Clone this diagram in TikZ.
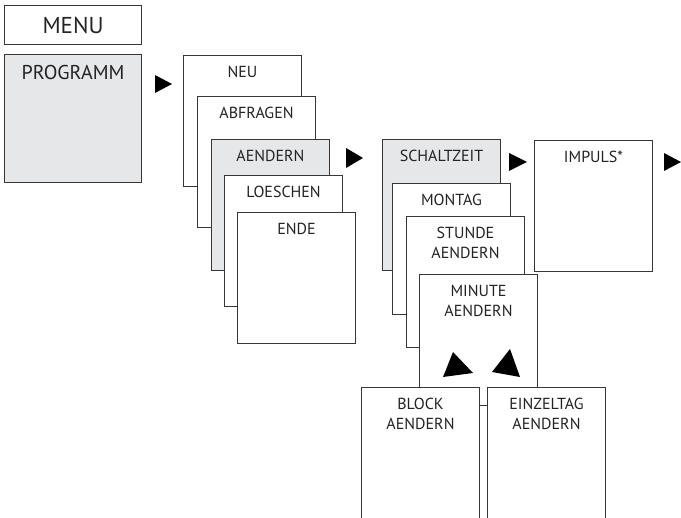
\documentclass[tikz,border=0pt]{standalone}
\usepackage{fontspec}
\setmainfont{PT Sans}
\usepackage{xcolor}
\usepackage{tikz}
\usetikzlibrary{positioning}
\definecolor{mygrey}{RGB}{230,231,233}
\definecolor{myline}{RGB}{55,55,55}
\definecolor{mytext}{RGB}{35,35,35}
\tikzset{
  boxlabel/.style={anchor=north, inner sep=0pt, yshift=-11pt, align=center,
    text=mytext, font=\fontsize{16}{20}\selectfont},
  menubox/.style={rectangle, draw=myline, fill=white, line width=1pt,
    minimum width=118pt, minimum height=131pt, inner sep=0pt,
    anchor=north west, label={[boxlabel]north:#1}},
  greybox/.style={menubox=#1, fill=mygrey},
  tri/.style={fill=black}
}
\begin{document}
\begin{tikzpicture}[x=1pt, y=-1pt]
  \clip (0,0) rectangle (681,518);
  \fill[white] (0,0) rectangle (681,518);

  % Menu title and first level
  \node[rectangle, draw=myline, line width=1pt, minimum width=137pt, minimum height=39pt,
    anchor=north west, text=mytext, font=\fontsize{23}{28}\selectfont] (menu) at (4,5) {MENU};
  \node[greybox=, minimum width=137pt, minimum height=128pt,
    label={[boxlabel, font=\fontsize{20}{24}\selectfont]north:PROGRAMM}] (prog) at (4,54) {};
  \fill[tri] (155,75) -- (155,93) -- (172,84) -- cycle;

  % Second level stack
  \node[menubox=NEU] (neu) at (183,55) {};
  \node[menubox=ABFRAGEN] (abfragen) at (197,96) {};
  \node[greybox=AENDERN] (aendern) at (211,139) {};
  \node[menubox=LOESCHEN] (loeschen) at (224,175) {};
  \node[menubox=ENDE] (ende) at (237,212) {};
  \fill[tri] (346,148) -- (346,168) -- (363,158) -- cycle;

  % Third level stack
  \node[greybox=SCHALTZEIT] (schaltzeit) at (382,139) {};
  \node[menubox=MONTAG] (montag) at (392,183) {};
  \node[menubox={STUNDE\\AENDERN}] (stunde) at (406,216) {};
  \node[menubox={MINUTE\\AENDERN}] (minute) at (419,274) {};
  \fill[tri] (453,352) -- (443,377) -- (473,373) -- cycle;
  \fill[tri] (510,349) -- (492,372) -- (520,377) -- cycle;
  \fill[tri] (509,153) -- (509,171) -- (527,162) -- cycle;

  % Impulse
  \node[menubox=IMPULS*] (impuls) at (534,140) {};
  \fill[tri] (664,153) -- (664,171) -- (681,162) -- cycle;

  % Block / single day
  \node[menubox={BLOCK\\AENDERN}, minimum height=140pt] (block) at (361,387) {};
  \node[menubox={EINZELTAG\\AENDERN}, minimum height=140pt] (einzeltag) at (487,387) {};
\end{tikzpicture}
\end{document}
